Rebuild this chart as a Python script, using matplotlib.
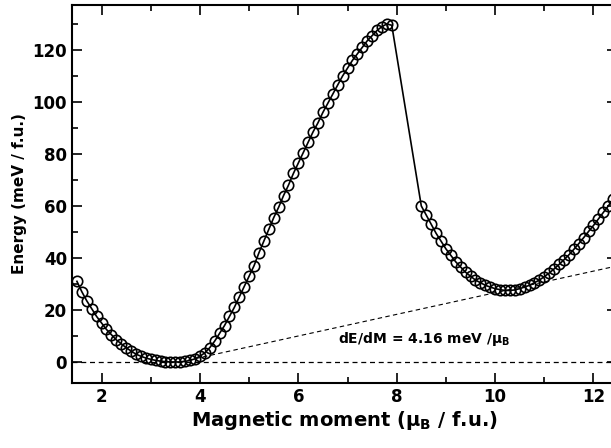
import numpy as np
import matplotlib
matplotlib.use("Agg")
import matplotlib.pyplot as plt
from matplotlib.ticker import MultipleLocator

m_left = [1.5,1.6,1.7,1.8,1.9,2.0,2.1,2.2,2.3,2.4,2.5,2.6,2.7,2.8,2.9,3.0,3.1,3.2,3.3,3.4,3.5,3.6,3.7,3.8,3.9,
          4.0,4.1,4.2,4.3,4.4,4.5,4.6,4.7,4.8,4.9,5.0,5.1,5.2,5.3,5.4,5.5,5.6,5.7,5.8,5.9,6.0,6.1,6.2,6.3,6.4,
          6.5,6.6,6.7,6.8,6.9,7.0,7.1,7.2,7.3,7.4,7.5,7.6,7.7,7.8,7.9]
e_left = [31,27,23.5,20.5,17.5,15,12.5,10.5,8.5,7,5.5,4.2,3,2.2,1.5,1,0.6,0.3,0.1,0,0,0,0.2,0.6,1.2,
          2.2,3.5,5.5,8,11,14,17.5,21,25,29,33,37,42,46.5,51,55.5,59.5,64,68,72.5,76.5,80.5,84.5,88.5,92,
          96,99.5,103,106.5,110,113,116,118.5,121,123.5,125.5,127.5,129,130,129.5]
m_right = [8.5,8.6,8.7,8.8,8.9,9.0,9.1,9.2,9.3,9.4,9.5,9.6,9.7,9.8,9.9,10.0,10.1,10.2,10.3,10.4,10.5,10.6,10.7,
           10.8,10.9,11.0,11.1,11.2,11.3,11.4,11.5,11.6,11.7,11.8,11.9,12.0,12.1,12.2,12.3,12.4,12.5]
e_right = [60,56.5,53,49.5,46.5,43.5,41,38.5,36.5,34.5,33,31.5,30.5,29.5,28.8,28.2,27.8,27.5,27.5,27.7,28.2,28.8,29.5,
           30.5,31.5,32.8,34.2,35.8,37.5,39.3,41.2,43.3,45.5,47.8,50.2,52.5,55,57.5,60,62.5,65]
m0, slope = 3.6, 4.16

m = m_left + m_right
e = e_left + e_right

fig = plt.figure(figsize=(6.11, 4.48), dpi=100)
ax = fig.add_axes([72/611, 1-383/448, 1-72/611+0.01, (383-5)/448])
ax.plot(m, e, '-', color='black', lw=1.2, zorder=2)
ax.plot(m, e, 'o', mfc='none', mec='black', ms=7.5, mew=1.2, zorder=3)
ax.axhline(0, color='black', ls='--', lw=0.9, dashes=(4, 3))
xs = np.array([m0, 12.6])
ax.plot(xs, slope*(xs-m0), color='black', ls='--', lw=0.8, dashes=(4, 3))
ax.text(6.8, 9.0, r'dE/dM = 4.16 meV /$\mathbf{\mu_B}$', fontsize=10, fontweight='bold', va='center')

ax.set_xlim(1.4, 12.48)
ax.set_ylim(-8.1, 137.3)
ax.xaxis.set_major_locator(MultipleLocator(2))
ax.xaxis.set_minor_locator(MultipleLocator(1))
ax.yaxis.set_major_locator(MultipleLocator(20))
ax.yaxis.set_minor_locator(MultipleLocator(10))
ax.tick_params(which='both', direction='in', top=True, right=True, width=1.2)
ax.tick_params(which='major', length=7, labelsize=12)
ax.tick_params(which='minor', length=4)
for t in ax.get_xticklabels() + ax.get_yticklabels():
    t.set_fontweight('bold')
for s in ax.spines.values():
    s.set_linewidth(1.5)
ax.set_xlabel(r'Magnetic moment ($\mathbf{\mu_B}$ / f.u.)', fontsize=14, fontweight='bold', labelpad=2)
ax.set_ylabel('Energy (meV / f.u.)', fontsize=11, fontweight='bold', labelpad=4)
fig.savefig('out.png', dpi=100)
